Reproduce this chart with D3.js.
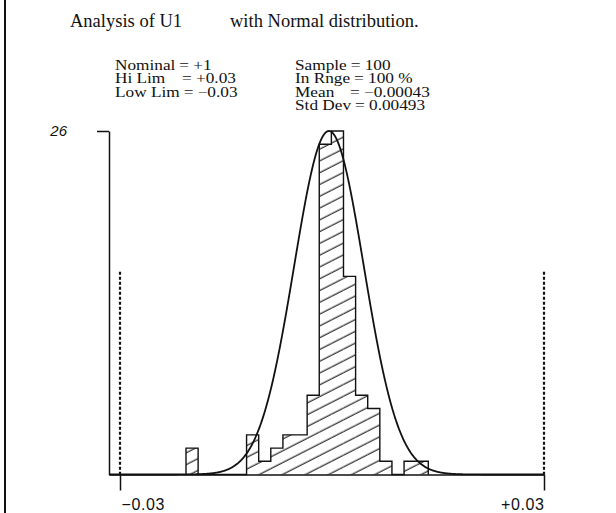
<!DOCTYPE html>
<html>
<head>
<meta charset="utf-8">
<script src="https://cdn.jsdelivr.net/npm/d3@7/dist/d3.min.js"></script>
<style>
 body { margin: 0; background: #fff; }
 svg { display: block; }
 .serif { font-family: "Liberation Serif", "Times New Roman", serif; fill: #111; }
 .sans  { font-family: "Liberation Sans", Arial, sans-serif; fill: #111; }
</style>
</head>
<body>
<svg id="chart" width="616" height="513"></svg>
<script>
 // histogram: counts per bin, bins are consecutive from binStart
 var binStart = -0.02066;
 var binWidth = 0.06 / 35;
 var counts = [2, 0, 0, 0, 0, 3, 1, 2, 3, 3, 6, 25, 26, 15, 6, 5, 1, 0, 1, 1];

 var specLimits = [-0.03, 0.03];
 var limitLabels = ["\u22120.03", "+0.03"];
 var yTicks = [26];

 // fitted normal
 var fitMean = -0.00043;
 var fitSd = 0.00493;

 var titleParts = ["Analysis of U1", "with Normal distribution."];
 var statLeftLabels = ["Nominal", "Hi Lim", "Low Lim"];
 var statLeftValues = ["+1", "+0.03", "\u22120.03"];
 var statRightLabels = ["Sample", "In Rnge", "Mean", "Std Dev"];
 var statRightValues = ["100", "100 %", "\u22120.00043", "0.00493"];

 var svg = d3.select("#chart");
 var ink = "#111";

 // x: limits sit at 120 / 544, axis line starts a bit left of the low limit
 var x = d3.scaleLinear().domain(specLimits).range([120, 544]);
 var xLo = x.invert(109);
 x.domain([xLo, specLimits[1]]).range([109, 544]);

 var y = d3.scaleLinear().domain([0, yTicks[0]]).range([474.5, 131]);

 // left page border
 svg.append("line")
    .attr("x1", 5).attr("x2", 5).attr("y1", 0).attr("y2", 513)
    .attr("stroke", ink).attr("stroke-width", 2);

 // title
 svg.append("text").attr("class", "serif").attr("x", 70).attr("y", 27)
    .style("font-size", "18.5px").text(titleParts[0]);
 svg.append("text").attr("class", "serif").attr("x", 230).attr("y", 27)
    .style("font-size", "18.5px").text(titleParts[1]);

 // stats block (font is a bit wide, stretch horizontally)
 var rowH = 13.6, row0 = 69.5, sx = 1.15;
 var leftEq = [172, 182, 182], rightEq = [344, 340, 350, 340];
 function putText(sel, xx, yy, s){
     return sel.append("text")
	       .attr("transform", "translate(" + xx + "," + yy + ") scale(" + sx + ",1)")
	       .text(s);
 }
 function statCol(labels, values, x0, eqs){
     labels.forEach(function(l, i){
	 var yy = row0 + i * rowH;
	 var t = svg.append("g").attr("class", "serif").style("font-size", "15px");
	 var lab = putText(t, x0, yy, l);
	 var eq = Math.max(eqs[i], x0 + lab.node().getComputedTextLength() * sx + 4);
	 putText(t, eq, yy, "=");
	 putText(t, eq + 14, yy, values[i]);
     });
 }
 statCol(statLeftLabels, statLeftValues, 115, leftEq);
 statCol(statRightLabels, statRightValues, 295, rightEq);

 // hatch pattern
 var defs = svg.append("defs");
 defs.append("pattern")
     .attr("id", "hatch")
     .attr("patternUnits", "userSpaceOnUse")
     .attr("width", 10).attr("height", 10.5)
     .attr("patternTransform", "rotate(-27)")
     .append("line")
     .attr("x1", 0).attr("x2", 10).attr("y1", 5).attr("y2", 5)
     .attr("stroke", ink).attr("stroke-width", 1.1);

 var bins = counts.map(function(c, i){
     return { x0: binStart + i * binWidth, x1: binStart + (i + 1) * binWidth, n: c };
 });

 var g = svg.append("g");

 g.selectAll("rect.bar")
  .data(bins.filter(function(d){ return d.n > 0; }))
  .enter().append("rect")
  .attr("class", "bar")
  .attr("x", function(d){ return x(d.x0); })
  .attr("width", function(d){ return x(d.x1) - x(d.x0); })
  .attr("y", function(d){ return y(d.n); })
  .attr("height", function(d){ return y(0) - y(d.n); })
  .attr("fill", "url(#hatch)");

 // stepped outline of the histogram
 var stepPts = [[bins[0].x0, 0]].concat(bins.map(function(d){ return [d.x0, d.n]; }));
 stepPts.push([bins[bins.length - 1].x1, 0]);
 g.append("path")
  .attr("d", d3.line().curve(d3.curveStepAfter)
	       .x(function(d){ return x(d[0]); })
	       .y(function(d){ return y(d[1]); })(stepPts))
  .attr("fill", "none").attr("stroke", ink).attr("stroke-width", 1.4);

 // spec limit lines
 var limTop = y(0) - 0.59 * (y(0) - y(yTicks[0]));
 g.selectAll("line.lim").data(specLimits).enter().append("line")
  .attr("class", "lim")
  .attr("x1", function(d){ return x(d); }).attr("x2", function(d){ return x(d); })
  .attr("y1", limTop).attr("y2", y(0))
  .attr("stroke", ink).attr("stroke-width", 2.2).attr("stroke-dasharray", "3,2");

 // normal curve, peak scaled to tallest bar
 var peak = d3.max(counts);
 var curvePts = d3.range(xLo, specLimits[1], 0.00005).map(function(v){
     var z = (v - fitMean) / fitSd;
     return [v, peak * Math.exp(-0.5 * z * z)];
 });
 g.append("path")
  .attr("d", d3.line()
	       .x(function(d){ return x(d[0]); })
	       .y(function(d){ return y(d[1]); })(curvePts))
  .attr("fill", "none").attr("stroke", ink).attr("stroke-width", 1.8);

 // axes
 var xAxis = svg.append("g")
		.attr("transform", "translate(0," + y(0) + ")")
		.call(d3.axisBottom(x).tickValues(specLimits).tickSize(16).tickSizeOuter(0)
			.tickFormat(function(d, i){ return limitLabels[i]; }));
 xAxis.selectAll("text").attr("class", "sans").style("font-size", "16px")
      .style("letter-spacing", "0.6px")
      .attr("fill", ink)
      .attr("y", 35.5).attr("dy", 0)
      .attr("text-anchor", function(d, i){ return i == 0 ? "start" : "end"; })
      .attr("dx", function(d, i){ return i == 0 ? 1 : 0; });

 var yAxis = svg.append("g")
		.attr("transform", "translate(" + x(xLo) + ",0)")
		.call(d3.axisLeft(y).tickValues(yTicks).tickSize(12).tickSizeOuter(0).tickPadding(30));
 yAxis.selectAll("text").attr("class", "sans").style("font-size", "15px")
      .style("font-style", "italic").attr("fill", ink);

 svg.selectAll(".domain, .tick line").attr("stroke", ink).attr("stroke-width", 1.5);
 svg.selectAll(".tick text").style("font-family", "'Liberation Sans', Arial, sans-serif");
</script>
</body>
</html>
